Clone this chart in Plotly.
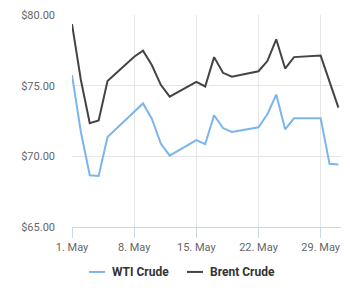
import plotly.graph_objects as go

dates = ["2018-05-01", "2018-05-02", "2018-05-03", "2018-05-04", "2018-05-05",
         "2018-05-08", "2018-05-09", "2018-05-10", "2018-05-11", "2018-05-12",
         "2018-05-15", "2018-05-16", "2018-05-17", "2018-05-18", "2018-05-19",
         "2018-05-22", "2018-05-23", "2018-05-24", "2018-05-25", "2018-05-26",
         "2018-05-29", "2018-05-30", "2018-05-31"]
wti = [75.75, 71.72, 68.66, 68.61, 71.37, 73.10, 73.74, 72.64, 70.91, 70.05,
       71.15, 70.87, 72.91, 72.00, 71.72, 72.06, 72.98, 74.37, 71.91, 72.69,
       72.69, 69.47, 69.42]
brent = [79.36, 75.40, 72.34, 72.53, 75.33, 77.05, 77.47, 76.44, 75.06, 74.22,
         75.27, 74.94, 77.02, 75.91, 75.64, 76.02, 76.74, 78.28, 76.21, 77.02,
         77.13, 75.30, 73.45]
series_names = ["WTI Crude", "Brent Crude"]
colors = ["#7cb5ec", "#434348"]
x_ticks = ["2018-05-01", "2018-05-08", "2018-05-15", "2018-05-22", "2018-05-29"]
y_ticks = [65, 70, 75, 80]

W, H = 350, 290
ML, MR, MT, MB = 72, 9, 10, 63
pw = W - ML - MR
ph = H - MT - MB

fig = go.Figure()
for name, vals, c in zip(series_names, [wti, brent], colors):
    fig.add_trace(go.Scatter(x=dates, y=vals, mode="lines", name=name,
                             line=dict(color=c, width=2), showlegend=False))

font = "Roboto, 'Open Sans', Arial, sans-serif"

def px_x(px):
    return (px - ML) / pw

def px_y(py):
    return (H - MB - py) / ph

legend_items = [(89, 105, 110), (187, 203, 208)]
shapes = []
annotations = []
for (x0, x1, tx), name, c in zip(legend_items, series_names, colors):
    shapes.append(dict(type="line", xref="paper", yref="paper",
                       x0=px_x(x0), x1=px_x(x1), y0=px_y(273), y1=px_y(273),
                       line=dict(color=c, width=2)))
    annotations.append(dict(xref="paper", yref="paper", x=px_x(tx), y=px_y(273),
                            text="<b>" + name + "</b>", showarrow=False,
                            xanchor="left", yanchor="middle",
                            font=dict(family=font, size=12, color="#333333")))

fig.update_layout(
    width=W, height=H,
    margin=dict(l=ML, r=MR, t=MT, b=MB, pad=0),
    paper_bgcolor="white", plot_bgcolor="white",
    font=dict(family=font, size=11, color="#666666"),
    shapes=shapes, annotations=annotations,
    xaxis=dict(type="date", range=["2018-05-01", "2018-05-31 07:00"],
               tickvals=x_ticks, tickformat="%-d. %b",
               showgrid=True, gridcolor="#e6e6e6", gridwidth=1,
               showline=True, linecolor="#ccd6eb", linewidth=1,
               ticks="outside", ticklen=10, tickcolor="#ccd6eb", tickwidth=1,
               tickfont=dict(size=11, color="#666666"), zeroline=False),
    yaxis=dict(range=[65, 80], tickvals=y_ticks, tickformat="$.2f",
               showgrid=True, gridcolor="#e6e6e6", gridwidth=1,
               showline=False, zeroline=False, ticks="",
               ticklabelstandoff=16,
               tickfont=dict(size=11, color="#666666")),
)

fig.write_html("out.html")
